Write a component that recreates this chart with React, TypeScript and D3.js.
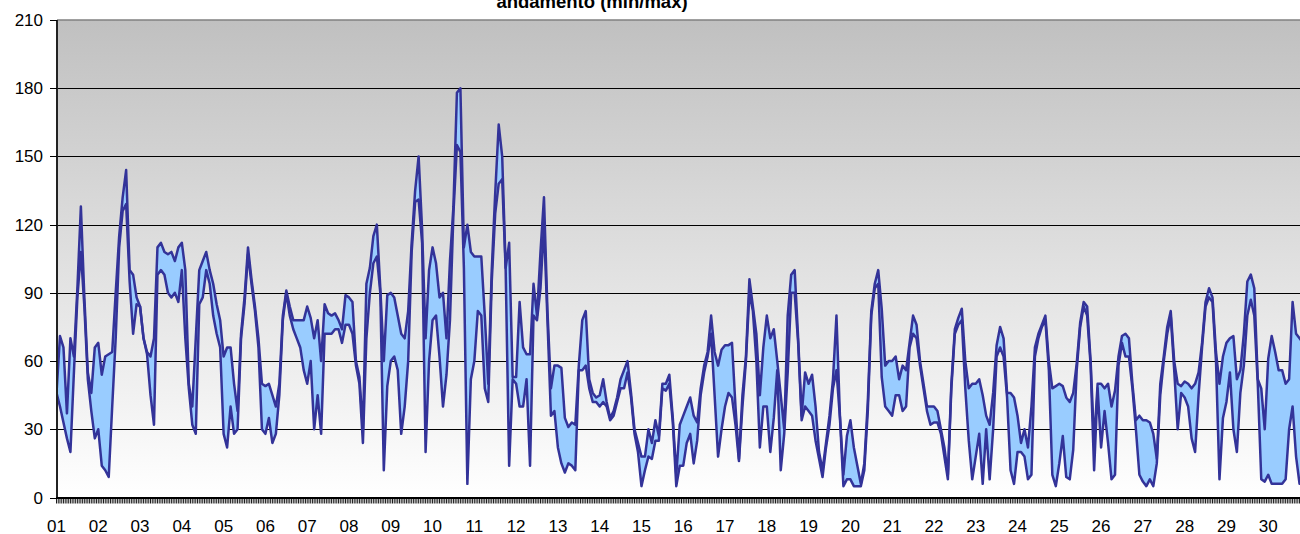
import { useEffect, useRef } from "react";
import * as d3 from "d3";

// day labels on the category axis (one label every 24 hourly ticks)
const dayLabels = [
  "01", "02", "03", "04", "05", "06", "07", "08", "09", "10",
  "11", "12", "13", "14", "15", "16", "17", "18", "19", "20",
  "21", "22", "23", "24", "25", "26", "27", "28", "29", "30",
];

const yTicks = [0, 30, 60, 90, 120, 150, 180, 210];

// one value every 2 hours, 12 per day
const maxValues = [
  46, 71, 66, 37, 70, 62, 92, 128, 88, 55, 46, 66, // 01
  68, 54, 62, 63, 64, 90, 115, 132, 144, 100, 98, 88, // 02
  84, 70, 64, 62, 70, 110, 112, 108, 107, 108, 104, 110, // 03
  112, 100, 50, 40, 70, 100, 104, 108, 100, 94, 85, 78, // 04
  62, 66, 66, 50, 38, 72, 88, 110, 96, 84, 70, 50, // 05
  49, 50, 45, 40, 50, 80, 91, 84, 78, 78, 78, 78, // 06
  84, 79, 70, 78, 60, 85, 81, 80, 81, 78, 74, 89, // 07
  88, 86, 60, 53, 30, 94, 101, 115, 120, 92, 60, 89, // 08
  90, 88, 80, 72, 70, 82, 112, 135, 150, 118, 70, 100, // 09
  110, 103, 88, 90, 70, 104, 128, 178, 180, 110, 120, 108, // 10
  106, 106, 106, 80, 50, 100, 134, 164, 150, 101, 112, 53, // 11
  53, 86, 66, 63, 63, 94, 80, 108, 132, 82, 48, 58, // 12
  58, 57, 35, 31, 33, 32, 58, 78, 82, 52, 46, 44, // 13
  45, 52, 42, 35, 38, 44, 52, 56, 60, 46, 30, 24, // 14
  18, 18, 30, 24, 34, 27, 50, 50, 54, 35, 10, 32, // 15
  36, 40, 44, 36, 33, 48, 58, 64, 80, 64, 58, 65, // 16
  67, 67, 68, 40, 17, 45, 62, 96, 84, 72, 45, 66, // 17
  80, 70, 74, 60, 45, 30, 80, 98, 100, 70, 36, 55, // 18
  50, 54, 40, 20, 12, 24, 36, 52, 80, 36, 10, 27, // 19
  34, 22, 14, 6, 15, 42, 82, 94, 100, 83, 58, 60, // 20
  60, 62, 52, 58, 56, 68, 80, 76, 60, 50, 40, 40, // 21
  40, 38, 30, 22, 10, 50, 74, 79, 83, 60, 48, 50, // 22
  50, 52, 45, 36, 32, 46, 67, 75, 70, 46, 46, 44, // 23
  36, 24, 30, 22, 40, 66, 72, 76, 80, 60, 48, 49, // 24
  50, 49, 44, 42, 46, 59, 77, 86, 84, 60, 24, 50, // 25
  50, 48, 50, 40, 47, 62, 71, 72, 70, 50, 34, 36, // 26
  34, 34, 33, 28, 17, 50, 62, 75, 82, 60, 50, 49, // 27
  51, 50, 48, 50, 55, 68, 86, 92, 88, 64, 50, 62, // 28
  68, 70, 71, 52, 56, 72, 95, 98, 92, 52, 48, 30, // 29
  61, 71, 64, 56, 56, 50, 52, 86, 72, 70, 68, 66, // 30
];

const minValues = [
  46, 40, 33, 26, 20, 55, 88, 108, 84, 52, 38, 26, // 01
  30, 14, 12, 9, 40, 70, 110, 126, 129, 95, 72, 85, // 02
  84, 70, 63, 45, 32, 98, 100, 98, 90, 88, 90, 86, // 03
  100, 70, 48, 32, 28, 85, 88, 100, 94, 80, 72, 66, // 04
  28, 22, 40, 28, 30, 70, 85, 107, 94, 82, 66, 30, // 05
  28, 35, 24, 28, 45, 78, 90, 80, 74, 70, 66, 56, // 06
  50, 60, 30, 45, 28, 72, 72, 72, 74, 74, 68, 76, // 07
  76, 72, 58, 50, 24, 70, 90, 103, 106, 90, 12, 49, // 08
  60, 62, 56, 28, 40, 60, 108, 130, 131, 112, 20, 60, // 09
  78, 80, 62, 40, 54, 78, 125, 155, 152, 101, 6, 52, // 10
  60, 82, 80, 48, 42, 95, 125, 138, 140, 100, 14, 52, // 11
  50, 40, 40, 52, 14, 80, 78, 92, 120, 78, 36, 38, // 12
  22, 15, 11, 15, 14, 12, 56, 56, 58, 48, 42, 42, // 13
  40, 42, 40, 34, 36, 42, 48, 48, 55, 44, 28, 20, // 14
  5, 12, 18, 17, 25, 25, 48, 47, 50, 33, 5, 14, // 15
  14, 24, 28, 15, 25, 45, 55, 62, 72, 45, 18, 30, // 16
  40, 46, 44, 32, 16, 40, 60, 90, 82, 60, 22, 40, // 17
  40, 20, 35, 56, 12, 28, 55, 90, 90, 68, 34, 40, // 18
  38, 36, 25, 17, 9, 22, 32, 48, 56, 35, 5, 8, // 19
  8, 5, 5, 5, 12, 38, 80, 92, 94, 53, 40, 38, // 20
  36, 45, 45, 38, 40, 66, 72, 70, 58, 48, 38, 32, // 21
  33, 33, 28, 18, 8, 48, 72, 76, 78, 48, 25, 8, // 22
  18, 28, 6, 30, 8, 30, 62, 66, 62, 44, 12, 6, // 23
  20, 20, 18, 8, 10, 62, 70, 75, 78, 56, 10, 5, // 24
  15, 27, 9, 8, 21, 56, 75, 84, 80, 58, 12, 48, // 25
  22, 38, 24, 8, 10, 58, 68, 62, 62, 48, 30, 10, // 26
  7, 5, 8, 5, 15, 45, 60, 72, 80, 56, 30, 46, // 27
  44, 40, 26, 20, 45, 66, 84, 88, 86, 60, 8, 35, // 28
  42, 55, 30, 20, 46, 58, 80, 87, 80, 50, 8, 7, // 29
  10, 6, 6, 6, 6, 8, 30, 40, 18, 6, 6, 8, // 30
];

const HOURS_PER_POINT = 2;
const HOURS_PER_DAY = 24;

export default function App() {
  const svgRef = useRef<SVGSVGElement>(null);

  useEffect(() => {
    if (!svgRef.current) return;
    const svg = d3.select(svgRef.current);
    svg.selectAll("*").remove();

    const font = "Arial, 'Liberation Sans', sans-serif";
    const totalHours = dayLabels.length * HOURS_PER_DAY;

    const x = d3.scaleLinear().domain([0, totalHours]).range([56.5, 1310]);
    const y = d3.scaleLinear().domain([0, 210]).range([497.5, 20]);

    const plotLeft = 57;
    const plotTop = y(210);
    const plotBottom = y(0);
    const plotRight = x(totalHours);

    // background gradient
    const defs = svg.append("defs");
    const grad = defs
      .append("linearGradient")
      .attr("id", "bg")
      .attr("x1", 0)
      .attr("y1", 0)
      .attr("x2", 0)
      .attr("y2", 1);
    grad.append("stop").attr("offset", "0%").attr("stop-color", "#c0c0c0");
    grad.append("stop").attr("offset", "100%").attr("stop-color", "#ffffff");

    defs
      .append("clipPath")
      .attr("id", "plotClip")
      .append("rect")
      .attr("x", plotLeft)
      .attr("y", plotTop)
      .attr("width", plotRight - plotLeft)
      .attr("height", plotBottom - plotTop);

    svg
      .append("rect")
      .attr("x", plotLeft)
      .attr("y", plotTop)
      .attr("width", plotRight - plotLeft)
      .attr("height", plotBottom - plotTop)
      .attr("fill", "url(#bg)");

    // horizontal grid
    svg
      .append("g")
      .selectAll("line")
      .data(yTicks.filter((t) => t > 0 && t < 210))
      .join("line")
      .attr("x1", plotLeft)
      .attr("x2", plotRight)
      .attr("y1", (d) => Math.round(y(d)) + 0.5)
      .attr("y2", (d) => Math.round(y(d)) + 0.5)
      .attr("stroke", "#000")
      .attr("stroke-width", 1);

    // top border
    svg
      .append("line")
      .attr("x1", plotLeft)
      .attr("x2", plotRight)
      .attr("y1", plotTop)
      .attr("y2", plotTop)
      .attr("stroke", "#808080")
      .attr("stroke-width", 1.5);

    // min/max band and lines
    const series = maxValues.map((mx, i) => ({
      hour: i * HOURS_PER_POINT,
      max: mx,
      min: minValues[i],
    }));

    const g = svg.append("g").attr("clip-path", "url(#plotClip)");

    const area = d3
      .area<(typeof series)[number]>()
      .x((d) => x(d.hour))
      .y0((d) => y(d.min))
      .y1((d) => y(d.max));

    g.append("path")
      .datum(series)
      .attr("fill", "#99ccff")
      .attr("d", area);

    const lineMax = d3
      .line<(typeof series)[number]>()
      .x((d) => x(d.hour))
      .y((d) => y(d.max));
    const lineMin = d3
      .line<(typeof series)[number]>()
      .x((d) => x(d.hour))
      .y((d) => y(d.min));

    [lineMin, lineMax].forEach((ln) => {
      g.append("path")
        .datum(series)
        .attr("fill", "none")
        .attr("stroke", "#333399")
        .attr("stroke-width", 2.5)
        .attr("stroke-linejoin", "round")
        .attr("d", ln);
    });

    // y axis
    svg
      .append("line")
      .attr("x1", plotLeft)
      .attr("x2", plotLeft)
      .attr("y1", plotTop)
      .attr("y2", plotBottom + 1)
      .attr("stroke", "#222")
      .attr("stroke-width", 2);

    const yAxis = svg.append("g");
    yAxis
      .selectAll("line")
      .data(yTicks)
      .join("line")
      .attr("x1", 50)
      .attr("x2", plotLeft)
      .attr("y1", (d) => Math.round(y(d)) + 0.5)
      .attr("y2", (d) => Math.round(y(d)) + 0.5)
      .attr("stroke", "#000");
    yAxis
      .selectAll("text")
      .data(yTicks)
      .join("text")
      .attr("x", 43)
      .attr("y", (d) => y(d) + 6)
      .attr("text-anchor", "end")
      .attr("font-family", font)
      .attr("font-size", 17)
      .attr("fill", "#000")
      .text((d) => String(d));

    // x axis
    svg
      .append("line")
      .attr("x1", plotLeft - 1)
      .attr("x2", plotRight)
      .attr("y1", plotBottom + 0.5)
      .attr("y2", plotBottom + 0.5)
      .attr("stroke", "#000")
      .attr("stroke-width", 2);

    svg
      .append("g")
      .selectAll("line")
      .data(d3.range(0, totalHours + 1))
      .join("line")
      .attr("x1", (d) => x(d))
      .attr("x2", (d) => x(d))
      .attr("y1", plotBottom + 1)
      .attr("y2", plotBottom + 6)
      .attr("stroke", "#000")
      .attr("stroke-width", 0.9);

    svg
      .append("g")
      .selectAll("text")
      .data(dayLabels)
      .join("text")
      .attr("x", (_, i) => x(i * HOURS_PER_DAY))
      .attr("y", 531.5)
      .attr("text-anchor", "middle")
      .attr("font-family", font)
      .attr("font-size", 17)
      .attr("fill", "#000")
      .text((d) => d);

    // title (partly cut off at the top, as in the source)
    svg
      .append("text")
      .attr("x", 592)
      .attr("y", 8)
      .attr("text-anchor", "middle")
      .attr("font-family", font)
      .attr("font-size", 18.5)
      .attr("font-weight", "bold")
      .attr("fill", "#000")
      .text("andamento (min/max)");
  }, []);

  return (
    <svg
      ref={svgRef}
      width={1300}
      height={534}
      style={{ position: "absolute", left: 0, top: 0, background: "#fff" }}
    />
  );
}
